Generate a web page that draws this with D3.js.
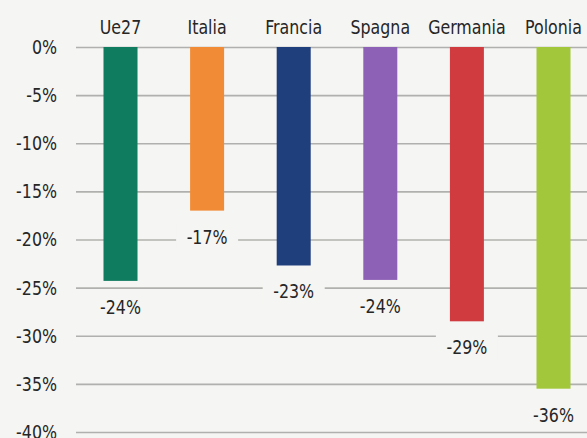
<!DOCTYPE html>
<html>
<head>
<meta charset="utf-8">
<script src="https://cdn.jsdelivr.net/npm/d3@7"></script>
<style>
  body { margin: 0; background: #f5f5f3; }
  svg { display: block; }
  text { font-family: "DejaVu Sans Condensed", "DejaVu Sans", sans-serif; fill: #262626; }
</style>
</head>
<body>
<script>
// chart data
const categories = ["Ue27", "Italia", "Francia", "Spagna", "Germania", "Polonia"];
const values = [-24.3, -17.0, -22.7, -24.2, -28.5, -35.5];
const valueLabels = ["-24%", "-17%", "-23%", "-24%", "-29%", "-36%"];
const colors = ["#0f7b5f", "#f28b35", "#1f3e7c", "#8d62b6", "#d03b40", "#a3c73b"];
const yTicks = [0, -5, -10, -15, -20, -25, -30, -35, -40];

const w = 587, h = 438;
const sx = 0.88; // squeeze text horizontally, the original font is condensed

let svg = d3.select("body")
  .append("svg")
  .attr("width", w)
  .attr("height", h);

svg.append("rect").attr("width", w).attr("height", h).attr("fill", "#f5f5f3");

let y = d3.scaleLinear().domain([0, -40]).range([47, 432]);
let x = d3.scalePoint().domain(categories).range([120.5, 553.5]);
let barW = 34;

// gridlines + tick labels
let yAxis = d3.axisLeft(y)
  .tickValues(yTicks)
  .tickSize(-(w - 76))
  .tickFormat(d => d + "%");

let g = svg.append("g")
  .attr("transform", "translate(76,0)")
  .call(yAxis);
g.select(".domain").remove();
g.selectAll(".tick line").attr("stroke", "#b0b0ae").attr("stroke-width", 1.6);
g.selectAll(".tick text")
  .attr("x", -19 / sx)
  .attr("transform", "scale(" + sx + ",1)")
  .attr("font-size", 20)
  .attr("font-family", null);

// bars
svg.selectAll("rect.bar")
  .data(categories)
  .enter()
  .append("rect")
  .attr("class", "bar")
  .attr("x", d => x(d) - barW / 2)
  .attr("y", y(0))
  .attr("width", barW)
  .attr("height", (d, i) => y(values[i]) - y(0))
  .attr("fill", (d, i) => colors[i]);

// category names on top
svg.selectAll("text.cat")
  .data(categories)
  .enter()
  .append("text")
  .attr("class", "cat")
  .attr("x", d => x(d) / sx)
  .attr("y", 34)
  .attr("transform", "scale(" + sx + ",1)")
  .attr("text-anchor", "middle")
  .attr("font-size", 20)
  .text(d => d);

// value labels with background boxes
let lab = svg.selectAll("g.lab")
  .data(categories)
  .enter()
  .append("g")
  .attr("class", "lab")
  .attr("transform", "scale(" + sx + ",1)");

lab.append("text")
  .attr("x", d => x(d) / sx)
  .attr("y", (d, i) => y(values[i]) + 33)
  .attr("text-anchor", "middle")
  .attr("font-size", 20)
  .text((d, i) => valueLabels[i]);

lab.each(function() {
  let t = d3.select(this).select("text");
  let b = t.node().getBBox();
  d3.select(this).insert("rect", "text")
    .attr("x", b.x - 12)
    .attr("y", b.y - 2)
    .attr("width", b.width + 24)
    .attr("height", b.height + 4)
    .attr("fill", "#f5f5f3");
});
</script>
</body>
</html>
